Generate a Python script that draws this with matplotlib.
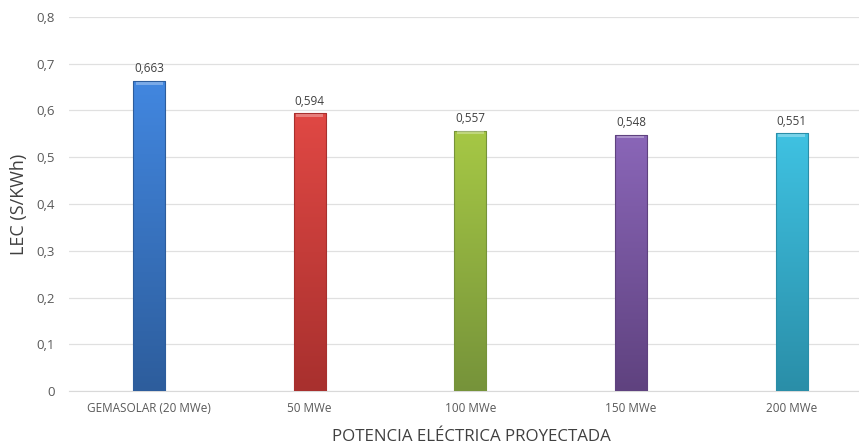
import matplotlib
matplotlib.use("Agg")
import matplotlib.pyplot as plt
import numpy as np
from matplotlib.colors import LinearSegmentedColormap

categories = ["GEMASOLAR (20 MWe)", "50 MWe", "100 MWe", "150 MWe", "200 MWe"]
values = [0.663, 0.594, 0.557, 0.548, 0.551]
labels = ["0,663", "0,594", "0,557", "0,548", "0,551"]
top_colors = ["#4287e0", "#e04844", "#a6c845", "#8a66b8", "#3fc2e2"]
bot_colors = ["#2d5d9c", "#a8302e", "#76933a", "#5f427f", "#2a8ea8"]
yticks = [0, 0.1, 0.2, 0.3, 0.4, 0.5, 0.6, 0.7, 0.8]
yticklabels = ["0", "0,1", "0,2", "0,3", "0,4", "0,5", "0,6", "0,7", "0,8"]

plt.rcParams['font.family'] = ['Open Sans', 'DejaVu Sans']
fig = plt.figure(figsize=(8.59, 4.43), dpi=100)
ax = fig.add_axes([0.08, 0.117, 0.935, 0.845])

x = np.arange(len(categories))
width = 0.2
bars = ax.bar(x, values, width=width, color="none", edgecolor="none", zorder=3)
for b, ct, cb in zip(bars, top_colors, bot_colors):
    cmap = LinearSegmentedColormap.from_list("g", [cb, ct])
    grad = np.linspace(0, 1, 256).reshape(-1, 1)
    x0, y0 = b.get_x(), b.get_y()
    w, h = b.get_width(), b.get_height()
    im = ax.imshow(grad, cmap=cmap, origin="lower", aspect="auto",
                   extent=[x0, x0 + w, y0, y0 + h], zorder=3)
    im.set_clip_path(b)
    ax.add_patch(plt.Rectangle((x0, y0), w, h, fill=False, edgecolor=cb, linewidth=0.8, zorder=4))
    ax.add_patch(plt.Rectangle((x0 + w * 0.08, y0 + h - 0.008), w * 0.84, 0.006, color="white", alpha=0.3, linewidth=0, zorder=5))

for xi, v, lab in zip(x, values, labels):
    ax.text(xi, v + 0.012, lab, ha="center", va="bottom", fontsize=8.5, color="#404040", zorder=6)

ax.set_xlim(-0.5, len(categories) - 0.5)
ax.set_ylim(0, 0.8)
ax.set_yticks(yticks)
ax.set_yticklabels(yticklabels)
ax.set_xticks(x)
ax.set_xticklabels(categories)
ax.tick_params(axis="both", length=0, colors="#595959", labelsize=8.5)
ax.tick_params(axis="y", pad=10, labelsize=9.5)
ax.tick_params(axis="x", pad=8)
ax.grid(axis="y", color="#e0e0e0", linewidth=0.9, zorder=0)
ax.set_axisbelow(True)
for s in ["top", "right", "left"]:
    ax.spines[s].set_visible(False)
ax.spines["bottom"].set_color("#d9d9d9")
ax.set_ylabel("LEC (S/KWh)", fontsize=13, color="#404040")
ax.yaxis.set_label_coords(-0.051, 0.5)
ax.set_xlabel("POTENCIA ELÉCTRICA PROYECTADA", fontsize=12.2, color="#404040")
ax.xaxis.set_label_coords(0.501, -0.1)

fig.savefig("out.png", dpi=100)
